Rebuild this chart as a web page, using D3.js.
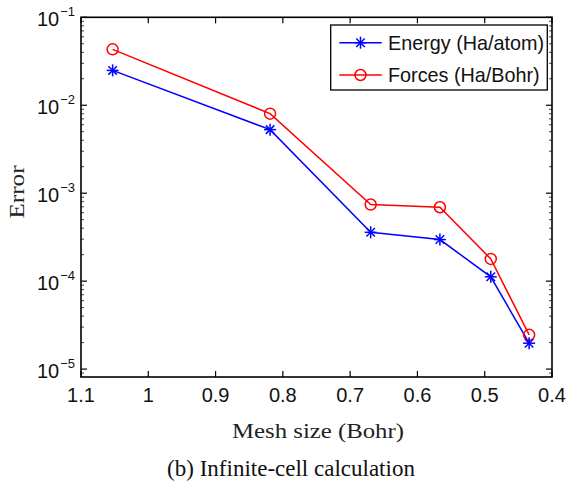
<!DOCTYPE html>
<html>
<head>
<meta charset="utf-8">
<script src="https://cdn.jsdelivr.net/npm/d3@7"></script>
<style>
  body { margin: 0; background: white; }
  svg { display: block; }
</style>
</head>
<body>
<div id="chart"></div>
<script>
// values
const meshSize = [1.053, 0.819, 0.6695, 0.5666, 0.491, 0.434]
const energyErr = [0.0249, 0.00528, 3.59e-4, 2.97e-4, 1.12e-4, 1.97e-5]
const forceErr = [0.0432, 0.00803, 7.43e-4, 6.92e-4, 1.79e-4, 2.45e-5]
const xTicks = [1.1, 1, 0.9, 0.8, 0.7, 0.6, 0.5, 0.4]
const yExponents = [-1, -2, -3, -4, -5]
const seriesNames = ['Energy (Ha/atom)', 'Forces (Ha/Bohr)']

const width = 577
const height = 491
const plot = { left: 81, right: 552, top: 17.3, bottom: 377 }
const sans = "'Liberation Sans', Arial, Helvetica, sans-serif"
const serif = "'Liberation Serif', 'Times New Roman', serif"

const svg = d3.select('#chart').append('svg')
  .attr('width', width)
  .attr('height', height)

const x = d3.scaleLinear().domain([1.1, 0.4]).range([plot.left, plot.right])
const y = d3.scaleLog().domain([Math.pow(10, -5.09), 0.1]).range([plot.bottom, plot.top])

const axes = svg.append('g')

// minor log ticks (left and right, pointing inward)
const minor = []
for (let e = -6; e < -1; e++) {
  for (let k = 2; k < 10; k++) {
    const v = k * Math.pow(10, e)
    if (v >= y.domain()[0] && v <= 0.1) minor.push(v)
  }
}
minor.forEach(v => {
  axes.append('line')
    .attr('x1', plot.left).attr('x2', plot.left + 3)
    .attr('y1', y(v)).attr('y2', y(v))
    .attr('stroke', '#444').attr('stroke-width', 1)
  axes.append('line')
    .attr('x1', plot.right).attr('x2', plot.right - 3)
    .attr('y1', y(v)).attr('y2', y(v))
    .attr('stroke', '#444').attr('stroke-width', 1)
})

// major y ticks + labels
yExponents.forEach(e => {
  const v = Math.pow(10, e)
  const yy = y(v)
  axes.append('line')
    .attr('x1', plot.left).attr('x2', plot.left + 6)
    .attr('y1', yy).attr('y2', yy)
    .attr('stroke', 'black').attr('stroke-width', 1.2)
  axes.append('line')
    .attr('x1', plot.right).attr('x2', plot.right - 6)
    .attr('y1', yy).attr('y2', yy)
    .attr('stroke', 'black').attr('stroke-width', 1.2)
  const t = axes.append('text')
    .attr('x', 75)
    .attr('y', yy + 8.5)
    .attr('text-anchor', 'end')
    .attr('font-family', sans)
    .attr('font-size', 20)
    .attr('fill', '#111')
  t.append('tspan').text('10')
  t.append('tspan')
    .attr('dy', -10)
    .attr('dx', 1)
    .attr('font-size', 13)
    .text('\u2212' + Math.abs(e))
})

// x ticks (bottom and top, inward) + labels
xTicks.forEach(v => {
  const xx = x(v)
  axes.append('line')
    .attr('x1', xx).attr('x2', xx)
    .attr('y1', plot.bottom).attr('y2', plot.bottom - 6)
    .attr('stroke', 'black').attr('stroke-width', 1.2)
  axes.append('line')
    .attr('x1', xx).attr('x2', xx)
    .attr('y1', plot.top).attr('y2', plot.top + 6)
    .attr('stroke', 'black').attr('stroke-width', 1.2)
  axes.append('text')
    .attr('x', xx)
    .attr('y', 402)
    .attr('text-anchor', 'middle')
    .attr('font-family', sans)
    .attr('font-size', 20)
    .attr('fill', '#111')
    .text(d3.format('~g')(v))
})

// frame
axes.append('rect')
  .attr('x', plot.left)
  .attr('y', plot.top)
  .attr('width', plot.right - plot.left)
  .attr('height', plot.bottom - plot.top)
  .attr('fill', 'none')
  .attr('stroke', 'black')
  .attr('stroke-width', 1.6)

// series
const line = d3.line()
  .x(d => x(d[0]))
  .y(d => y(d[1]))

const energy = meshSize.map((m, i) => [m, energyErr[i]])
const forces = meshSize.map((m, i) => [m, forceErr[i]])

function star (g, cx, cy, r, color) {
  const angles = [0, 45, 90, 135]
  angles.forEach(a => {
    const rad = a * Math.PI / 180
    g.append('line')
      .attr('x1', cx - r * Math.cos(rad)).attr('x2', cx + r * Math.cos(rad))
      .attr('y1', cy - r * Math.sin(rad)).attr('y2', cy + r * Math.sin(rad))
      .attr('stroke', color)
      .attr('stroke-width', 1.5)
  })
}

const contents = svg.append('g').attr('class', 'contents')

contents.append('path')
  .datum(forces)
  .attr('d', line)
  .attr('fill', 'none')
  .attr('stroke', '#ff0000')
  .attr('stroke-width', 1.5)

contents.append('path')
  .datum(energy)
  .attr('d', line)
  .attr('fill', 'none')
  .attr('stroke', '#0000ff')
  .attr('stroke-width', 1.5)

forces.forEach(d => {
  contents.append('circle')
    .attr('cx', x(d[0]))
    .attr('cy', y(d[1]))
    .attr('r', 5.5)
    .attr('fill', 'none')
    .attr('stroke', '#ff0000')
    .attr('stroke-width', 1.5)
})
energy.forEach(d => star(contents, x(d[0]), y(d[1]), 6, '#0000ff'))

// legend
const legend = svg.append('g')
legend.append('rect')
  .attr('x', 330.7)
  .attr('y', 25)
  .attr('width', 216.6)
  .attr('height', 65)
  .attr('fill', 'white')
  .attr('stroke', 'black')
  .attr('stroke-width', 1.3)

const legendColors = ['#0000ff', '#ff0000']
seriesNames.forEach((name, i) => {
  const ly = 42.7 + i * 32.3
  legend.append('line')
    .attr('x1', 339.3).attr('x2', 381.7)
    .attr('y1', ly).attr('y2', ly)
    .attr('stroke', legendColors[i])
    .attr('stroke-width', 1.5)
  if (i === 0) star(legend, 360.5, ly, 6, legendColors[i])
  else {
    legend.append('circle')
      .attr('cx', 360.5).attr('cy', ly).attr('r', 5.5)
      .attr('fill', 'none')
      .attr('stroke', legendColors[i])
      .attr('stroke-width', 1.5)
  }
  legend.append('text')
    .attr('x', 388)
    .attr('y', ly + 7)
    .attr('font-family', sans)
    .attr('font-size', 19.8)
    .attr('fill', '#111')
    .text(name)
})

// axis titles and caption
svg.append('text')
  .attr('x', 318)
  .attr('y', 438)
  .attr('text-anchor', 'middle')
  .attr('font-family', serif)
  .attr('font-size', 22)
  .attr('textLength', 172)
  .attr('lengthAdjust', 'spacingAndGlyphs')
  .attr('fill', '#222')
  .text('Mesh size (Bohr)')

svg.append('text')
  .attr('transform', 'translate(24, 192) rotate(-90)')
  .attr('text-anchor', 'middle')
  .attr('font-family', serif)
  .attr('font-size', 22)
  .attr('textLength', 53)
  .attr('lengthAdjust', 'spacingAndGlyphs')
  .attr('fill', '#222')
  .text('Error')

svg.append('text')
  .attr('x', 291)
  .attr('y', 476)
  .attr('text-anchor', 'middle')
  .attr('font-family', serif)
  .attr('font-size', 23)
  .attr('fill', '#111')
  .text('(b) Infinite-cell calculation')
</script>
</body>
</html>
